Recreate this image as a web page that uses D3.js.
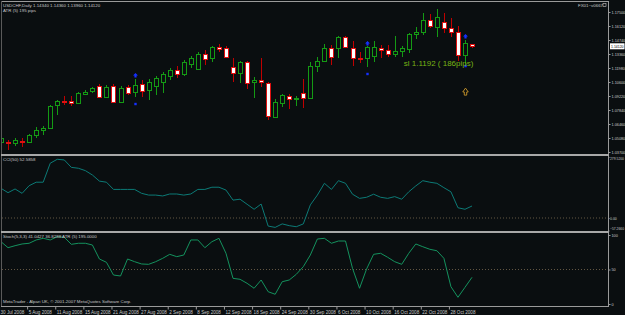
<!DOCTYPE html>
<html lang="en">
<head>
  <meta charset="UTF-8">
  <title>USDCHF Daily</title>
  <script src="https://d3js.org/d3.v7.min.js"></script>
  <style>
    body { margin: 0; background: #0a0e10; }
    svg { display: block; font-family: Arial, "Liberation Sans", sans-serif; }
  </style>
</head>
<body>
  <div id="chart"></div>
  <script>
    // daily bars, 30 Jul - 31 Oct 2008
    const dates = [
      "2008.07.30", "2008.07.31", "2008.08.01", "2008.08.04", "2008.08.05", "2008.08.06", "2008.08.07", "2008.08.08",
      "2008.08.11", "2008.08.12", "2008.08.13", "2008.08.14", "2008.08.15", "2008.08.18", "2008.08.19", "2008.08.20",
      "2008.08.21", "2008.08.22", "2008.08.25", "2008.08.26", "2008.08.27", "2008.08.28", "2008.08.29", "2008.09.01",
      "2008.09.02", "2008.09.03", "2008.09.04", "2008.09.05", "2008.09.08", "2008.09.09", "2008.09.10", "2008.09.11",
      "2008.09.12", "2008.09.15", "2008.09.16", "2008.09.17", "2008.09.18", "2008.09.19", "2008.09.22", "2008.09.23",
      "2008.09.24", "2008.09.25", "2008.09.26", "2008.09.29", "2008.09.30", "2008.10.01", "2008.10.02", "2008.10.03",
      "2008.10.06", "2008.10.07", "2008.10.08", "2008.10.09", "2008.10.10", "2008.10.13", "2008.10.14", "2008.10.15",
      "2008.10.16", "2008.10.17", "2008.10.20", "2008.10.21", "2008.10.22", "2008.10.23", "2008.10.24", "2008.10.27",
      "2008.10.28", "2008.10.29", "2008.10.30", "2008.10.31"
    ];

    const opens = [
      1.0468, 1.0473, 1.0458, 1.0483, 1.0468, 1.0537, 1.0587, 1.0606, 1.0833, 1.0868, 1.0868, 1.0853, 1.0946, 1.0971,
      1.1020, 1.0912, 1.1020, 1.0863, 1.1011, 1.0961, 1.1040, 1.0981, 1.1020, 1.1060, 1.1119, 1.1178, 1.1139, 1.1237,
      1.1188, 1.1336, 1.1296, 1.1405, 1.1395, 1.1207, 1.1148, 1.1257, 1.1060, 1.1080, 1.1050, 1.0715, 1.0853, 1.0922,
      1.0897, 1.0951, 1.0902, 1.1217, 1.1267, 1.1395, 1.1395, 1.1503, 1.1395, 1.1301, 1.1296, 1.1316, 1.1395, 1.1375,
      1.1336, 1.1365, 1.1385, 1.1533, 1.1553, 1.1671, 1.1602, 1.1651, 1.1592, 1.1553, 1.1326, 1.1434
    ];
    const highs = [
      1.0527, 1.0488, 1.0508, 1.0508, 1.0547, 1.0616, 1.0626, 1.0833, 1.0882, 1.0922, 1.0922, 1.0961, 1.0981, 1.1011,
      1.1040, 1.1030, 1.1040, 1.1020, 1.1030, 1.1089, 1.1080, 1.1089, 1.1119, 1.1158, 1.1198, 1.1217, 1.1277, 1.1316,
      1.1356, 1.1375, 1.1415, 1.1434, 1.1415, 1.1296, 1.1267, 1.1267, 1.1109, 1.1296, 1.1060, 1.0892, 1.0942, 1.0942,
      1.0922, 1.1089, 1.1257, 1.1306, 1.1434, 1.1425, 1.1513, 1.1513, 1.1464, 1.1356, 1.1415, 1.1464, 1.1425, 1.1425,
      1.1513, 1.1415, 1.1543, 1.1602, 1.1740, 1.1730, 1.1780, 1.1740, 1.1691, 1.1612, 1.1474, 1.1436
    ];
    const lows = [
      1.0448, 1.0389, 1.0429, 1.0419, 1.0458, 1.0508, 1.0537, 1.0596, 1.0734, 1.0833, 1.0823, 1.0843, 1.0932, 1.0951,
      1.0902, 1.0902, 1.0853, 1.0853, 1.0932, 1.0912, 1.0912, 1.0882, 1.0932, 1.0951, 1.1080, 1.1099, 1.1119, 1.1198,
      1.1178, 1.1227, 1.1257, 1.1356, 1.1296, 1.1060, 1.1050, 1.0991, 1.0902, 1.1011, 1.0685, 1.0705, 1.0813, 1.0794,
      1.0823, 1.0803, 1.0892, 1.1158, 1.1257, 1.1227, 1.1296, 1.1395, 1.1217, 1.1247, 1.1207, 1.1257, 1.1296, 1.1306,
      1.1306, 1.1306, 1.1346, 1.1484, 1.1523, 1.1592, 1.1503, 1.1543, 1.1503, 1.1267, 1.1227, 1.1396
    ];
    const closes = [
      1.0508, 1.0463, 1.0488, 1.0473, 1.0537, 1.0587, 1.0606, 1.0823, 1.0872, 1.0858, 1.0853, 1.0951, 1.0966, 1.1001,
      1.0912, 1.1011, 1.0863, 1.1001, 1.0951, 1.1030, 1.0971, 1.1060, 1.1099, 1.1139, 1.1178, 1.1139, 1.1257, 1.1296,
      1.1336, 1.1286, 1.1405, 1.1385, 1.1306, 1.1148, 1.1257, 1.1050, 1.1080, 1.1060, 1.0725, 1.0863, 1.0932, 1.0892,
      1.0907, 1.0902, 1.1217, 1.1267, 1.1395, 1.1306, 1.1503, 1.1405, 1.1296, 1.1291, 1.1405, 1.1405, 1.1380, 1.1336,
      1.1365, 1.1395, 1.1533, 1.1553, 1.1671, 1.1612, 1.1701, 1.1592, 1.1553, 1.1326, 1.1444, 1.1412
    ];

    const cciValues = [
      136, 116, 133, 113, 148, 164, 164, 251, 269, 266, 232, 228, 217, 197, 169, 164, 131, 131, 131, 131, 113, 105,
      105, 101, 110, 110, 105, 110, 131, 131, 141, 141, 128, 82, 86, 63, 40, 64, -37, -43, -27, -35, -40, -27, 60, 105,
      159, 131, 171, 159, 109, 90, 95, 109, 95, 90, 98, 86, 120, 147, 171, 164, 159, 139, 120, 47, 40, 55
    ];
    const stochValues = [
      90.3, 81.6, 84.5, 87.0, 88.0, 92.8, 95.2, 92.8, 97.5, 96.7, 86.5, 88.0, 88.0, 85.5, 65.2, 60.4, 42.0, 40.6,
      65.2, 61.3, 58.0, 57.5, 61.3, 66.2, 72.0, 68.6, 71.0, 92.8, 92.8, 81.6, 90.3, 95.2, 73.5, 37.2, 35.8, 30.0,
      22.8, 34.8, 17.8, 14.1, 32.3, 34.8, 43.0, 54.1, 71.0, 94.2, 95.2, 88.0, 91.3, 91.3, 51.7, 22.8, 50.7, 72.0,
      73.5, 67.7, 61.3, 57.5, 73.5, 87.0, 83.0, 79.3, 77.2, 66.2, 25.1, 9.7, 24.2, 38.7
    ];

    const priceTicks = [1.17500, 1.16120, 1.14740, 1.13360, 1.11980, 1.10600, 1.09220, 1.07840, 1.06460, 1.05080, 1.03700];
    const cciTicks = [279.52, 0, -57.266];
    const stochTicks = [100, 50, 0];

    // blue signal arrows (above) and dots (below)
    const signalBars = [19, 52, 66];
    const signalArrow = [1.1129, 1.1444, 1.1513];
    const signalDot = [1.0843, 1.1139, 1.1217];

    const slText = "sl 1.1192 ( 186pips)";
    const slBar = 57, slTextPrice = 1.1222;
    const slArrowBar = 66, slArrowPrice = 1.0965;

    const W = 625, H = 315;
    const bg = "#0a0e10";
    const txt = "#c8c8c8";
    const frame = "#9a9a9a";

    const svg = d3.select("#chart").append("svg")
      .attr("width", W)
      .attr("height", H);

    svg.append("rect").attr("width", W).attr("height", H).attr("fill", bg);

    const parse = d3.timeParse("%Y.%m.%d");
    const fmt = d3.timeFormat("%-d %b %Y");

    const step = 7.03;
    const x = d3.scaleBand()
      .domain(dates)
      .range([-2.5, -2.5 + step * dates.length]);
    const cx = d => x(d) + x.bandwidth() / 2;

    const yPrice = d3.scaleLinear().domain([1.037, 1.175]).range([152, 12]);
    const yCci = d3.scaleLinear().domain([-57.266, 279.52]).range([230.5, 157]);
    const yStoch = d3.scaleLinear().domain([0, 100]).range([304, 235]);

    const plotRight = 608.5;

    const defs = svg.append("defs");
    defs.append("clipPath").attr("id", "cMain").append("rect").attr("x", 2).attr("y", 2).attr("width", 606).attr("height", 151);

    // ---- candles ----
    const bars = dates.map((d, i) => ({ d, o: opens[i], h: highs[i], l: lows[i], c: closes[i] }));
    const candles = svg.append("g").attr("clip-path", "url(#cMain)").attr("shape-rendering", "crispEdges");

    candles.selectAll(".wick")
      .data(bars)
      .enter().append("line")
      .attr("x1", b => Math.round(cx(b.d)) + 0.5)
      .attr("x2", b => Math.round(cx(b.d)) + 0.5)
      .attr("y1", b => yPrice(b.h))
      .attr("y2", b => yPrice(b.l))
      .attr("stroke", b => b.c >= b.o ? "#149a14" : "#c00000")
      .attr("stroke-width", 1);

    candles.selectAll(".body")
      .data(bars)
      .enter().append("rect")
      .attr("x", b => Math.round(cx(b.d)) - 1.5)
      .attr("width", 4)
      .attr("y", b => Math.round(yPrice(Math.max(b.o, b.c))) + 0.5)
      .attr("height", b => Math.max(1, Math.round(yPrice(Math.min(b.o, b.c)) - yPrice(Math.max(b.o, b.c)))))
      .attr("fill", b => b.c >= b.o ? bg : "#ffffff")
      .attr("stroke", b => b.c >= b.o ? "#149a14" : "#e01010")
      .attr("stroke-width", 1);

    // ---- signals ----
    const upArrow = (px, py, w, h) => {
      const hw = w / 2, head = h * 0.55, sw = w * 0.22;
      return `M${px},${py} L${px + hw},${py + head} L${px + sw},${py + head} L${px + sw},${py + h} ` +
        `L${px - sw},${py + h} L${px - sw},${py + head} L${px - hw},${py + head} Z`;
    };

    signalBars.forEach((bi, k) => {
      const px = Math.round(cx(dates[bi])) + 0.5;
      svg.append("path")
        .attr("d", upArrow(px, yPrice(signalArrow[k]) - 2, 5, 4.5))
        .attr("fill", "#1530ff");
      svg.append("rect")
        .attr("x", px - 1.2).attr("y", yPrice(signalDot[k]) - 1.2)
        .attr("width", 2.4).attr("height", 2.4)
        .attr("fill", "#1530ff");
    });

    svg.append("text")
      .attr("x", cx(dates[slBar]) + 2)
      .attr("y", yPrice(slTextPrice))
      .attr("font-size", "8px")
      .attr("fill", "#78b414")
      .text(slText);

    const ax = Math.round(cx(dates[slArrowBar])) + 0.5;
    svg.append("path")
      .attr("d", upArrow(ax, yPrice(slArrowPrice) - 3.5, 5.5, 7))
      .attr("fill", "none")
      .attr("stroke", "#c9962a")
      .attr("stroke-width", 0.9);

    // ---- indicator lines ----
    const cciLine = d3.line().x((v, i) => cx(dates[i])).y(v => yCci(v));
    const stochLine = d3.line().x((v, i) => cx(dates[i])).y(v => yStoch(v));

    svg.append("line")
      .attr("x1", 2).attr("x2", plotRight).attr("y1", yCci(0)).attr("y2", yCci(0))
      .attr("stroke", "#7a6a50").attr("stroke-width", 0.8).attr("stroke-dasharray", "1,2");
    svg.append("line")
      .attr("x1", 2).attr("x2", plotRight).attr("y1", yStoch(50)).attr("y2", yStoch(50))
      .attr("stroke", "#7a6a50").attr("stroke-width", 0.8).attr("stroke-dasharray", "1,2");

    svg.append("path")
      .datum(cciValues)
      .attr("d", cciLine)
      .attr("fill", "none")
      .attr("stroke", "#0c7a76")
      .attr("stroke-width", 1);

    svg.append("path")
      .datum(stochValues)
      .attr("d", stochLine)
      .attr("fill", "none")
      .attr("stroke", "#14925e")
      .attr("stroke-width", 1);

    // ---- frames ----
    const fr = svg.append("g").attr("shape-rendering", "crispEdges");
    fr.append("line").attr("x1", 1).attr("x2", plotRight).attr("y1", 1.5).attr("y2", 1.5).attr("stroke", frame);
    fr.append("line").attr("x1", 1.5).attr("x2", 1.5).attr("y1", 1).attr("y2", 306.5).attr("stroke", "#5a5a5a");
    fr.append("line").attr("x1", plotRight).attr("x2", plotRight).attr("y1", 1).attr("y2", 307).attr("stroke", frame);
    fr.append("rect").attr("x", 1).attr("y", 153.5).attr("width", plotRight - 1).attr("height", 2.5).attr("fill", "#a8a8a8");
    fr.append("rect").attr("x", 1).attr("y", 230.5).attr("width", plotRight - 1).attr("height", 2).attr("fill", "#a8a8a8");
    fr.append("line").attr("x1", 1).attr("x2", plotRight).attr("y1", 306.5).attr("y2", 306.5).attr("stroke", frame);

    // ---- right axes ----
    // labels squeezed into the narrow strip right of the plot
    const maxLab = 12.5;
    const axisStyle = size => g => {
      g.select(".domain").remove();
      g.selectAll(".tick line").attr("stroke", frame);
      g.selectAll(".tick text")
        .attr("fill", txt).attr("font-size", size + "px").attr("font-family", "Arial, sans-serif")
        .each(function () {
          if (this.getComputedTextLength() > maxLab + 1.5) {
            d3.select(this).attr("textLength", maxLab + 1.5).attr("lengthAdjust", "spacingAndGlyphs");
          }
        });
    };

    svg.append("g")
      .attr("transform", `translate(${plotRight},0)`)
      .call(d3.axisRight(yPrice).tickValues(priceTicks).tickSize(2).tickPadding(1).tickFormat(d3.format(".5f")))
      .call(axisStyle(3.8));

    const cciAxis = svg.append("g")
      .attr("transform", `translate(${plotRight},0)`)
      .call(d3.axisRight(yCci).tickValues(cciTicks).tickSize(1).tickPadding(0.5)
        .tickFormat(d => d === 0 ? "0.00" : d3.format(".4f")(d)))
      .call(axisStyle(3.5));
    // keep the end labels clear of the panel separators
    cciAxis.selectAll(".tick text").attr("y", d => d === cciTicks[0] ? 1.2 : d === cciTicks[2] ? -2.4 : 0);

    svg.append("g")
      .attr("transform", `translate(${plotRight},0)`)
      .call(d3.axisRight(yStoch).tickValues(stochTicks).tickSize(2).tickPadding(1).tickFormat(d3.format("d")))
      .call(axisStyle(3.8));

    // current price marker
    const lastClose = closes[closes.length - 1];
    svg.append("rect")
      .attr("x", plotRight + 1.5).attr("y", yPrice(lastClose) - 3)
      .attr("width", 14.5).attr("height", 6)
      .attr("fill", "#ffffff");
    svg.append("text")
      .attr("x", plotRight + 2.5).attr("y", yPrice(lastClose) + 1.4)
      .attr("font-size", "3.8px").attr("fill", "#000")
      .attr("textLength", maxLab).attr("lengthAdjust", "spacingAndGlyphs")
      .text(d3.format(".5f")(lastClose));

    // ---- date axis ----
    const dateAxis = svg.append("g")
      .attr("transform", "translate(0,306.5)")
      .call(d3.axisBottom(x).tickValues(dates.filter((d, i) => i % 4 === 0)).tickSize(3).tickFormat(d => fmt(parse(d))));
    dateAxis.select(".domain").remove();
    dateAxis.selectAll(".tick line").attr("stroke", frame).attr("transform", `translate(${-x.bandwidth() / 2 + 2},0)`);
    dateAxis.selectAll(".tick text")
      .attr("fill", txt).attr("font-size", "4.6px").attr("font-family", "Arial, sans-serif")
      .attr("text-anchor", "start").attr("x", -x.bandwidth() / 2 + 3).attr("dy", "0").attr("y", 7.5);

    // ---- labels ----
    const small = (tx, ty, s, col) => svg.append("text")
      .attr("x", tx).attr("y", ty).attr("font-size", "4.4px").attr("fill", col || txt).text(s);

    small(3, 6.5, "USDCHF,Daily  1.14340 1.14360 1.13960 1.14120");
    small(3, 11.5, "ATR (5) 195 pips");
    small(578, 6.5, "FX01~v0667");
    svg.append("rect").attr("x", 603).attr("y", 3.5).attr("width", 3).attr("height", 3)
      .attr("fill", "none").attr("stroke", txt).attr("stroke-width", 0.6);
    small(3, 161, "CCI(50) 52.5858");
    small(3, 237.5, "Stoch(5,3,3) 41.0427 36.8288 ATR (5) 195.0000");
    small(3, 302.5, "MetaTrader - Alpari UK, \u00a9 2001-2007 MetaQuotes Software Corp.");
  </script>
</body>
</html>
